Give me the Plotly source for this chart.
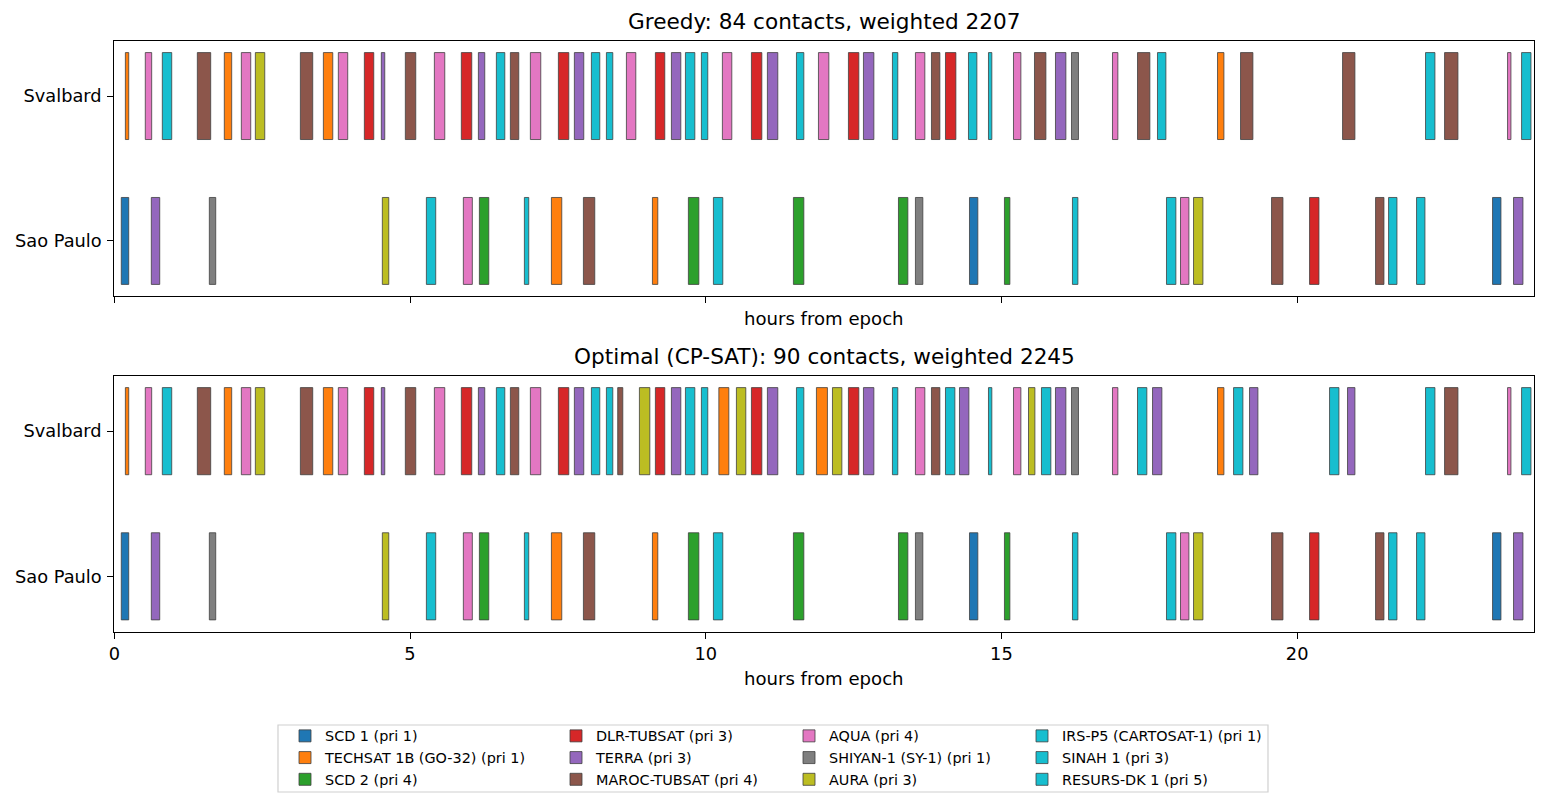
import plotly.graph_objects as go

W, H = 1547, 806

# ---- satellites (legend order) ----
SAT_KEYS = ["SCD1", "TECH", "SCD2", "DLR", "TERRA", "MAROC", "AQUA", "SHIYAN", "AURA", "IRS", "SINAH", "RESURS"]
SAT_LABELS = ["SCD 1 (pri 1)", "TECHSAT 1B (GO-32) (pri 1)", "SCD 2 (pri 4)",
              "DLR-TUBSAT (pri 3)", "TERRA (pri 3)", "MAROC-TUBSAT (pri 4)",
              "AQUA (pri 4)", "SHIYAN-1 (SY-1) (pri 1)", "AURA (pri 3)",
              "IRS-P5 (CARTOSAT-1) (pri 1)", "SINAH 1 (pri 3)", "RESURS-DK 1 (pri 5)"]
SAT_COLORS = ["#1f77b4", "#ff7f0e", "#2ca02c", "#d62728", "#9467bd", "#8c564b",
              "#e377c2", "#7f7f7f", "#bcbd22", "#17becf", "#17becf", "#17becf"]

STATIONS = ["Sao Paulo", "Svalbard"]

# ---- contacts: (satellite, start hour, end hour) ----
greedy_svalbard = [
    ("TECH", 0.187, 0.244), ("AQUA", 0.524, 0.632), ("IRS", 0.812, 0.971),
    ("MAROC", 1.404, 1.630), ("TECH", 1.860, 1.985), ("AQUA", 2.148, 2.307),
    ("AURA", 2.385, 2.544), ("MAROC", 3.146, 3.355), ("TECH", 3.535, 3.694),
    ("AQUA", 3.788, 3.947), ("DLR", 4.228, 4.387), ("TERRA", 4.515, 4.573),
    ("MAROC", 4.921, 5.097), ("AQUA", 5.412, 5.588), ("DLR", 5.868, 6.044),
    ("TERRA", 6.156, 6.264), ("SINAH", 6.460, 6.603), ("MAROC", 6.697, 6.839),
    ("AQUA", 7.035, 7.211), ("DLR", 7.509, 7.685), ("TERRA", 7.779, 7.938),
    ("RESURS", 8.067, 8.209), ("IRS", 8.321, 8.429), ("AQUA", 8.659, 8.818),
    ("DLR", 9.149, 9.308), ("TERRA", 9.420, 9.579), ("SINAH", 9.657, 9.816),
    ("RESURS", 9.927, 10.035), ("AQUA", 10.282, 10.441), ("DLR", 10.773, 10.949),
    ("TERRA", 11.043, 11.219), ("IRS", 11.534, 11.659), ("AQUA", 11.906, 12.082),
    ("DLR", 12.413, 12.589), ("TERRA", 12.667, 12.843), ("SINAH", 13.157, 13.248),
    ("AQUA", 13.546, 13.705), ("MAROC", 13.817, 13.959), ("DLR", 14.054, 14.230),
    ("RESURS", 14.443, 14.585), ("IRS", 14.781, 14.838), ("AQUA", 15.204, 15.329),
    ("MAROC", 15.559, 15.752), ("TERRA", 15.914, 16.090), ("SHIYAN", 16.185, 16.303),
    ("AQUA", 16.878, 16.969), ("MAROC", 17.301, 17.510), ("SINAH", 17.639, 17.781),
    ("TECH", 18.654, 18.762), ("MAROC", 19.043, 19.252), ("MAROC", 20.768, 20.977),
    ("RESURS", 22.171, 22.330), ("MAROC", 22.493, 22.719), ("AQUA", 23.558, 23.615),
    ("IRS", 23.795, 23.954),
]

optimal_svalbard = [
    ("TECH", 0.187, 0.244), ("AQUA", 0.524, 0.632), ("IRS", 0.812, 0.971),
    ("MAROC", 1.404, 1.630), ("TECH", 1.860, 1.985), ("AQUA", 2.148, 2.307),
    ("AURA", 2.385, 2.544), ("MAROC", 3.146, 3.355), ("TECH", 3.535, 3.694),
    ("AQUA", 3.788, 3.947), ("DLR", 4.228, 4.387), ("TERRA", 4.515, 4.573),
    ("MAROC", 4.921, 5.097), ("AQUA", 5.412, 5.588), ("DLR", 5.868, 6.044),
    ("TERRA", 6.156, 6.264), ("SINAH", 6.460, 6.603), ("MAROC", 6.697, 6.839),
    ("AQUA", 7.035, 7.211), ("DLR", 7.509, 7.685), ("TERRA", 7.779, 7.938),
    ("RESURS", 8.067, 8.209), ("IRS", 8.321, 8.429), ("MAROC", 8.512, 8.598),
    ("AURA", 8.879, 9.055), ("DLR", 9.149, 9.308), ("TERRA", 9.420, 9.579),
    ("SINAH", 9.657, 9.816), ("RESURS", 9.927, 10.035), ("TECH", 10.222, 10.391),
    ("AURA", 10.519, 10.678), ("DLR", 10.773, 10.949), ("TERRA", 11.043, 11.219),
    ("IRS", 11.534, 11.659), ("TECH", 11.872, 12.058), ("AURA", 12.143, 12.302),
    ("DLR", 12.413, 12.589), ("TERRA", 12.667, 12.843), ("SINAH", 13.157, 13.248),
    ("AQUA", 13.546, 13.705), ("MAROC", 13.817, 13.959), ("RESURS", 14.054, 14.213),
    ("TERRA", 14.291, 14.450), ("IRS", 14.781, 14.838), ("AQUA", 15.204, 15.329),
    ("AURA", 15.458, 15.566), ("SINAH", 15.677, 15.836), ("TERRA", 15.914, 16.090),
    ("SHIYAN", 16.185, 16.303), ("AQUA", 16.878, 16.969), ("RESURS", 17.301, 17.459),
    ("TERRA", 17.555, 17.713), ("TECH", 18.654, 18.762), ("IRS", 18.925, 19.083),
    ("TERRA", 19.195, 19.337), ("SINAH", 20.548, 20.707), ("TERRA", 20.852, 20.977),
    ("RESURS", 22.171, 22.330), ("MAROC", 22.493, 22.719), ("AQUA", 23.558, 23.615),
    ("IRS", 23.795, 23.954),
]

sao_paulo = [
    ("SCD1", 0.118, 0.244), ("TERRA", 0.626, 0.768), ("SHIYAN", 1.607, 1.715),
    ("AURA", 4.532, 4.641), ("IRS", 5.277, 5.435), ("AQUA", 5.902, 6.054),
    ("SCD2", 6.173, 6.332), ("SINAH", 6.934, 7.008), ("TECH", 7.391, 7.566),
    ("MAROC", 7.932, 8.124), ("TECH", 9.099, 9.190), ("SCD2", 9.707, 9.884),
    ("RESURS", 10.130, 10.289), ("SCD2", 11.483, 11.659), ("SCD2", 13.259, 13.418),
    ("SHIYAN", 13.546, 13.671), ("SCD1", 14.460, 14.601), ("SCD2", 15.051, 15.143),
    ("IRS", 16.201, 16.293), ("SINAH", 17.791, 17.950), ("AQUA", 18.028, 18.170),
    ("AURA", 18.248, 18.407), ("MAROC", 19.567, 19.760), ("DLR", 20.210, 20.369),
    ("MAROC", 21.326, 21.468), ("RESURS", 21.546, 21.688), ("IRS", 22.019, 22.161),
    ("SCD1", 23.304, 23.446), ("TERRA", 23.659, 23.818),
]

PANEL_TITLES = ["Greedy: 84 contacts, weighted 2207", "Optimal (CP-SAT): 90 contacts, weighted 2245"]
X_TICKS = [0, 5, 10, 15, 20]
X_LABEL = "hours from epoch"

panels = [
    {"Svalbard": greedy_svalbard, "Sao Paulo": sao_paulo},
    {"Svalbard": optimal_svalbard, "Sao Paulo": sao_paulo},
]

FONT = "DejaVu Sans"
fig = go.Figure()

for p, panel in enumerate(panels):
    xa = "x" if p == 0 else "x2"
    ya = "y" if p == 0 else "y2"
    for si, key in enumerate(SAT_KEYS):
        ys, xs, bases = [], [], []
        for st_idx, st in enumerate(STATIONS):
            for k, s, e in panel[st]:
                if k == key:
                    ys.append(st_idx)
                    bases.append(s)
                    xs.append(e - s)
        col = si // 3
        fig.add_trace(go.Bar(
            y=ys if ys else [None], x=xs if xs else [None], base=bases if bases else [None],
            orientation="h", width=0.6,
            marker=dict(color=SAT_COLORS[si], line=dict(color="#404040", width=0.8)),
            name=SAT_LABELS[si], xaxis=xa, yaxis=ya,
            showlegend=(p == 0),
            legend="legend" if col == 0 else f"legend{col + 1}",
            hovertemplate="%{base:.2f}–%{x:.2f} h<extra>" + SAT_LABELS[si] + "</extra>",
        ))

def px(x):
    return x / W

def py(y):
    return 1 - y / H

x_dom = [px(114.3), px(1533.7)]
axis_common = dict(showline=True, linecolor="black", linewidth=1.2, mirror=True,
                   ticks="outside", ticklen=6, tickwidth=1.2, tickcolor="black",
                   showgrid=False, zeroline=False, automargin=False,
                   tickfont=dict(family=FONT, size=17.8, color="black"))

layout = dict(
    width=W, height=H, margin=dict(l=0, r=0, t=0, b=0, pad=0, autoexpand=False),
    paper_bgcolor="white", plot_bgcolor="white",
    barmode="overlay", font=dict(family=FONT, color="black"),
    xaxis=dict(domain=x_dom, anchor="y", range=[0, 24], tickvals=X_TICKS,
               showticklabels=False, **axis_common),
    yaxis=dict(domain=[py(296), py(41)], anchor="x", range=[-0.38, 1.38],
               tickvals=[0, 1], ticktext=STATIONS, ticklabelstandoff=2, **axis_common),
    xaxis2=dict(domain=x_dom, anchor="y2", range=[0, 24], tickvals=X_TICKS,
                ticktext=[str(t) for t in X_TICKS], **axis_common),
    yaxis2=dict(domain=[py(631.5), py(376)], anchor="x2", range=[-0.38, 1.38],
                tickvals=[0, 1], ticktext=STATIONS, ticklabelstandoff=2, **axis_common),
)

# legends: four columns
leg_x = [285, 556, 789, 1022]
for c in range(4):
    name = "legend" if c == 0 else f"legend{c + 1}"
    layout[name] = dict(x=px(leg_x[c]), y=py(720), xanchor="left", yanchor="top",
                        orientation="v", bgcolor="rgba(0,0,0,0)", borderwidth=0,
                        font=dict(family=FONT, size=14.4, color="black"),
                        itemclick=False, itemdoubleclick=False)

fig.update_layout(**layout)

xc = (x_dom[0] + x_dom[1]) / 2
annotations = [
    dict(text=PANEL_TITLES[0], x=xc, y=py(36), xref="paper", yref="paper",
         xanchor="center", yanchor="bottom", showarrow=False,
         font=dict(family=FONT, size=21.6, color="black")),
    dict(text=PANEL_TITLES[1], x=xc, y=py(371), xref="paper", yref="paper",
         xanchor="center", yanchor="bottom", showarrow=False,
         font=dict(family=FONT, size=21.6, color="black")),
    dict(text=X_LABEL, x=xc, y=py(318.5), xref="paper", yref="paper",
         xanchor="center", yanchor="middle", showarrow=False,
         font=dict(family=FONT, size=18.1, color="black")),
    dict(text=X_LABEL, x=xc, y=py(678.5), xref="paper", yref="paper",
         xanchor="center", yanchor="middle", showarrow=False,
         font=dict(family=FONT, size=18.1, color="black")),
]
fig.update_layout(annotations=annotations)

fig.add_shape(type="rect", xref="paper", yref="paper",
              x0=px(278), x1=px(1268), y0=py(792), y1=py(725),
              line=dict(color="#d0d0d0", width=1.2), fillcolor="rgba(0,0,0,0)", layer="below")

fig.write_html("out.html")
